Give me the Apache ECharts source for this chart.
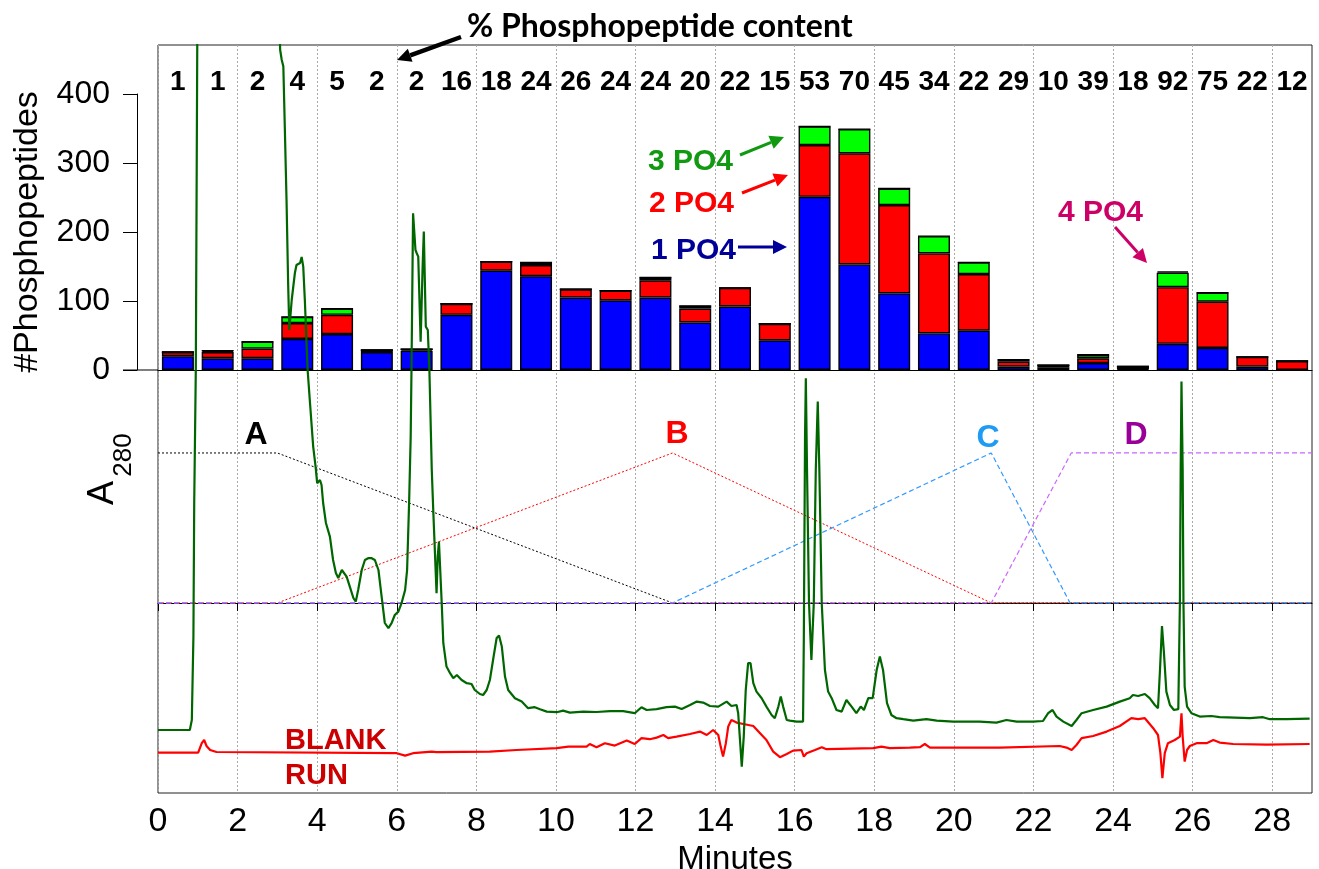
<!DOCTYPE html>
<html>
<head>
<meta charset="utf-8">
<script src="https://cdn.jsdelivr.net/npm/echarts@6/dist/echarts.min.js"></script>
<style>
  html, body { margin: 0; padding: 0; background: #fff; }
  #chart { width: 1319px; height: 869px; }
</style>
</head>
<body>
<div id="chart"></div>
<script>
// fractions, one per minute of the run
const fractions = ['0-1','1-2','2-3','3-4','4-5','5-6','6-7','7-8','8-9','9-10','10-11','11-12','12-13','13-14','14-15',
  '15-16','16-17','17-18','18-19','19-20','20-21','21-22','22-23','23-24','24-25','25-26','26-27','27-28','28-29'];
// % phosphopeptide content written above each fraction
const pctContent = ['1','1','2','4','5','2','2','16','18','24','26','24','24','20','22','15','53','70','45','34','22','29','10','39','18','92','75','22','12'];

// #phosphopeptides per fraction, by number of phosphate groups
const onePO4   = [20,17,17,45,52,26,28,80,144,136,105,101,105,69,92,43,251,153,111,53,57,5,4,10,1,38,32,5,0];
const twoPO4   = [6,9,14,23,28,3,2,16,13,16,12,14,25,20,27,24,75,161,128,116,82,7,3,7,4,82,67,14,13];
const threePO4 = [0,2,10,9,9,0,0,0,0,4,0,0,4,4,0,0,27,35,24,25,17,3,0,5,0,21,13,0,0];
const fourPO4  = [0,0,0,0,0,0,0,0,0,0,0,0,0,0,0,0,0,0,0,0,0,0,0,0,0,2,0,0,0];

// A280 chromatogram [minutes, mAU]; values above the top of the plot are off scale
const sampleTrace = [[0,32.5],[0.80,32.5],[0.85,37.5],[0.89,79.2],[0.91,146],[0.95,212.5],[0.99,390],[1.02,430],[2.0,440],[3.0,420],
  [3.07,372.5],[3.11,367.5],[3.15,364.2],[3.19,331],[3.23,297.5],[3.27,256],[3.30,232.5],[3.36,247.5],[3.44,261],[3.48,265],
  [3.53,264.2],[3.57,266],[3.61,269],[3.65,264.2],[3.69,247.5],[3.74,222.5],[3.76,212.5],[3.82,196],[3.90,174.2],[3.96,164.2],
  [4.00,155.9],[4.07,157.5],[4.11,155],[4.15,146],[4.22,136],[4.32,129.2],[4.40,117.5],[4.47,111],[4.53,108.5],[4.62,112.5],
  [4.67,112.5],[4.74,109.2],[4.82,104.2],[4.91,98.5],[4.97,96.7],[5.03,102.5],[5.12,112.5],[5.20,117.5],[5.28,118.4],[5.37,118.4],
  [5.45,117.5],[5.54,112.5],[5.62,99.2],[5.70,86],[5.79,83.4],[5.87,85.9],[5.95,90],[6.04,91.7],[6.12,95.9],[6.21,102.5],
  [6.26,112.5],[6.31,146],[6.35,179.2],[6.37,212.5],[6.41,290.9],[6.47,272.5],[6.50,271],[6.54,269.2],[6.60,226.7],[6.65,264.2],
  [6.68,281.7],[6.73,234.2],[6.78,232.5],[6.82,212.5],[6.88,162.5],[6.92,140.9],[6.96,120.9],[7.00,100.9],[7.03,119.2],[7.06,126.7],
  [7.09,126],[7.13,95.9],[7.17,75.9],[7.25,64.2],[7.34,60.9],[7.42,58.4],[7.51,60],[7.63,57.5],[7.76,55.9],[7.88,55.5],
  [7.96,52.5],[8.09,50.5],[8.17,50],[8.26,52.5],[8.34,57.5],[8.42,67.5],[8.51,78.5],[8.57,79.7],[8.64,74.2],[8.72,59.2],
  [8.80,52.5],[8.97,48.4],[9.14,46.7],[9.30,43.4],[9.47,43.9],[9.60,42.9],[9.77,41.7],[10.02,41.4],[10.18,42.2],[10.35,41.2],
  [10.69,41.7],[11.02,41.5],[11.36,41.9],[11.69,41.9],[11.98,40.9],[12.15,43.9],[12.28,42.5],[12.53,42.9],[12.78,43.9],[12.99,44.2],
  [13.16,43],[13.37,45],[13.54,46.7],[13.70,46.2],[13.87,44.5],[14.08,44.2],[14.29,46.7],[14.41,44.5],[14.54,45],[14.58,40.9],
  [14.62,29.2],[14.67,14.2],[14.72,29.2],[14.77,52.5],[14.83,65.9],[14.89,65.9],[14.96,55.9],[15.04,51.7],[15.17,48.4],[15.29,44.2],
  [15.42,40],[15.50,38.4],[15.59,44.2],[15.65,49.2],[15.71,44.2],[15.80,37.5],[15.88,37.2],[16.05,36.7],[16.21,36.7],[16.23,79.2],
  [16.26,179.2],[16.28,208.4],[16.31,162.5],[16.36,95.9],[16.42,67.5],[16.48,95.9],[16.53,162.5],[16.58,196.7],[16.62,162.5],[16.68,95.9],
  [16.76,62.5],[16.84,51.7],[16.93,48.4],[17.05,42.5],[17.18,41.7],[17.30,47.5],[17.43,44.2],[17.55,40.9],[17.66,44.2],[17.74,42.5],
  [17.85,48.4],[17.96,48.4],[18.06,62.5],[18.14,69.2],[18.22,62.5],[18.32,45.9],[18.43,40],[18.56,38.4],[18.73,37.9],[18.98,37.2],
  [19.31,37.9],[19.57,37.2],[19.98,36.7],[20.32,36.7],[20.65,36.7],[21.07,36.2],[21.32,37.5],[21.58,36.7],[21.99,36.7],[22.24,37],
  [22.37,40.9],[22.48,42.5],[22.58,39.2],[22.75,36.7],[22.96,34.5],[23.08,37.5],[23.21,40.9],[23.50,42.5],[23.84,44.2],[24.17,46.7],
  [24.42,48.4],[24.50,50],[24.63,49.5],[24.80,50.5],[24.92,48.4],[25.05,45],[25.13,43.4],[25.18,62.5],[25.23,84.5],[25.28,70.9],
  [25.34,51.7],[25.43,45],[25.53,42.5],[25.64,42.9],[25.68,95.9],[25.70,162.5],[25.72,206.7],[25.75,162.5],[25.77,95.9],[25.80,54.2],
  [25.86,44.2],[25.97,40.9],[26.18,39.2],[26.47,39.5],[26.68,38.9],[27.44,38.4],[27.77,38.9],[27.94,37.9],[28.36,37.9],[28.94,38.2]];

const blankTrace = [[0,21.2],[1.01,21.2],[1.10,25.9],[1.16,27.5],[1.22,24.5],[1.31,22.5],[1.47,21.5],[6.00,20.9],[6.21,19.7],[6.41,20.9],
  [6.88,21.7],[6.92,22.5],[7.00,21.4],[8.34,21.7],[9.01,22.5],[10.02,23.4],[10.31,24.2],[10.77,24.2],[10.85,25.5],[11.02,23.9],
  [11.23,25.9],[11.48,24.7],[11.78,27.2],[11.98,25.5],[12.15,28.4],[12.36,27.9],[12.53,28.7],[12.70,30],[12.82,28.4],[13.03,29.2],
  [13.37,30.5],[13.62,31.7],[13.79,30],[13.95,32.5],[14.08,30],[14.14,24.2],[14.20,19.2],[14.27,25.9],[14.33,34.2],[14.41,37.5],
  [14.54,36.2],[14.71,35.5],[14.96,34.5],[15.13,30.9],[15.29,27.5],[15.46,21.7],[15.63,18.9],[15.80,20.5],[15.96,22.2],[16.17,22.5],
  [16.23,19.2],[16.30,20.9],[16.51,22.5],[16.68,23.9],[16.80,22.9],[17.39,23.2],[17.97,23.4],[18.18,24.2],[18.39,23.4],[18.89,23.7],
  [19.15,23.9],[19.27,25.5],[19.40,23.7],[21.16,23.7],[22.66,24.5],[22.83,23.7],[22.96,22.5],[23.08,25],[23.21,28.4],[23.50,29.5],
  [23.84,31.7],[24.17,34.5],[24.46,38.4],[24.63,37.9],[24.80,38.4],[25.01,33.4],[25.13,30],[25.19,20.9],[25.24,8.4],[25.30,20.9],
  [25.38,25.9],[25.55,27.5],[25.68,29.2],[25.72,40.9],[25.75,29.2],[25.80,16.7],[25.86,22.5],[25.93,24.5],[26.10,25.9],[26.35,25.9],
  [26.52,27.5],[26.68,26.2],[27.02,25.5],[27.86,25.2],[28.94,25.5]];

// solvent gradient programme, % of each buffer
const gradientA = [[0,100],[3,100],[12.93,0],[29,0]];
const gradientB = [[0,0],[3,0],[12.93,100],[20.94,0],[29,0]];
const gradientC = [[0,0],[12.93,0],[20.94,100],[22.92,0],[29,0]];
const gradientD = [[0,0],[20.94,0],[22.95,100],[29,100]];

const evenMinutes = [0,2,4,6,8,10,12,14,16,18,20,22,24,26,28];

const FONT = 'Liberation Sans, Arial, sans-serif';

function arrow(x1, y1, x2, y2, color, w) {
  const ang = Math.atan2(y2 - y1, x2 - x1);
  const len = 14, half = 7;
  const bx = x2 - len * Math.cos(ang), by = y2 - len * Math.sin(ang);
  const px = -Math.sin(ang) * half, py = Math.cos(ang) * half;
  return {
    type: 'group', z: 20,
    children: [
      { type: 'line', shape: { x1: x1, y1: y1, x2: bx, y2: by }, style: { stroke: color, lineWidth: w } },
      { type: 'polygon', shape: { points: [[x2, y2], [bx + px, by + py], [bx - px, by - py]] }, style: { fill: color } }
    ]
  };
}

function label(text, x, y, color, size, align) {
  return {
    type: 'text', x: x, y: y, z: 20,
    style: { text: text, fill: color, font: 'bold ' + size + 'px ' + FONT, align: align || 'center', verticalAlign: 'middle' }
  };
}

function barSeries(name, data, color) {
  return {
    name: name, type: 'bar', stack: 'po4', xAxisIndex: 1, yAxisIndex: 2,
    data: data, barWidth: 32, z: 2,
    itemStyle: { color: color, borderColor: '#000', borderWidth: 1.4 }
  };
}

function lineSeries(name, data, color, width, type, yIdx, z) {
  return {
    name: name, type: 'line', xAxisIndex: 0, yAxisIndex: yIdx, data: data,
    showSymbol: false, symbol: 'none', z: z,
    lineStyle: { color: color, width: width, type: type }
  };
}

const chart = echarts.init(document.getElementById('chart'));

const option = {
  animation: false,
  backgroundColor: '#fff',
  textStyle: { fontFamily: FONT },
  grid: [
    { left: 158, right: 7, top: 45, bottom: 76, outerBoundsMode: 'none', show: true, borderColor: '#222', borderWidth: 1 },
    { left: 158, right: 7, top: 94, bottom: 499, outerBoundsMode: 'none' }
  ],
  xAxis: [
    {
      type: 'value', gridIndex: 0, min: 0, max: 29, interval: 1,
      name: 'Minutes', nameLocation: 'middle', nameGap: 46,
      nameTextStyle: { fontSize: 33, color: '#000', fontFamily: FONT },
      axisLine: { lineStyle: { color: '#000', width: 1 } },
      axisTick: { length: 8, lineStyle: { color: '#000' }, customValues: evenMinutes },
      axisLabel: { fontSize: 34, color: '#000', margin: 12, customValues: evenMinutes,
        formatter: v => (v % 2 === 0 ? String(v) : '') },
      splitLine: { show: true, lineStyle: { color: '#aaa', type: [2, 2], width: 1 } }
    },
    {
      type: 'category', gridIndex: 1, data: fractions, position: 'bottom',
      axisLine: { lineStyle: { color: '#000', width: 1.2 } },
      axisTick: { show: false }, axisLabel: { show: false }, splitLine: { show: false }
    },
    {
      type: 'category', gridIndex: 1, data: pctContent, position: 'top',
      axisLine: { show: false }, axisTick: { show: false }, splitLine: { show: false },
      axisLabel: { fontSize: 28, fontWeight: 'bold', color: '#000', margin: -2, interval: 0 }
    }
  ],
  yAxis: [
    { type: 'value', gridIndex: 0, min: 1, max: 375, show: false },
    { type: 'value', gridIndex: 0, min: -126.7, max: 372, show: false },
    {
      type: 'value', gridIndex: 1, min: 0, max: 400, interval: 100, offset: 21,
      name: '#Phosphopeptides', nameLocation: 'middle', nameGap: 92,
      nameTextStyle: { fontSize: 34, color: '#000', fontFamily: FONT },
      axisLine: { show: true, lineStyle: { color: '#000', width: 1 } },
      axisTick: { show: true, length: 14, lineStyle: { color: '#000' } },
      axisLabel: { fontSize: 32, color: '#000', margin: 27 },
      splitLine: { show: false }
    }
  ],
  series: [
    barSeries('1 PO4', onePO4, '#0000ff'),
    barSeries('2 PO4', twoPO4, '#ff0000'),
    barSeries('3 PO4', threePO4, '#00ff00'),
    barSeries('4 PO4', fourPO4, '#c77dff'),
    lineSeries('A', gradientA, '#000', 1, [2, 2], 1, 3),
    lineSeries('B', gradientB, '#ff0000', 1, [2, 2], 1, 3),
    lineSeries('C', gradientC, '#3399ff', 1.2, [5, 3], 1, 3),
    lineSeries('D', gradientD, '#cc66ff', 1.2, [5, 3], 1, 3),
    lineSeries('Blank run', blankTrace, '#ff0000', 2.2, 'solid', 0, 4),
    lineSeries('Sample', sampleTrace, '#006600', 2.2, 'solid', 0, 5)
  ],
  graphic: [
    { type: 'line', z: 20, shape: { x1: 123, y1: 370, x2: 158, y2: 370 }, style: { stroke: '#000', lineWidth: 1.2 } },
    {
      type: 'text', x: 467, y: 27, z: 20,
      style: { text: '% Phosphopeptide content', fill: '#000', font: 'bold 32px Lato, sans-serif', align: 'left', verticalAlign: 'middle' }
    },
    arrow(461, 37, 397, 60, '#000', 4.5),
    label('3 PO4', 648, 162, '#119911', 30, 'left'),
    arrow(740, 155, 784, 137, '#119911', 3),
    label('2 PO4', 649, 204, '#ff0000', 30, 'left'),
    arrow(742, 193, 788, 175, '#ff0000', 3),
    label('1 PO4', 651, 251, '#000099', 30, 'left'),
    arrow(738, 247, 787, 247, '#000099', 3),
    label('4 PO4', 1058, 213, '#cc0066', 30, 'left'),
    arrow(1115, 227, 1147, 263, '#cc0066', 3),
    label('A', 256, 435, '#000', 32),
    label('B', 677, 434, '#ff0000', 32),
    label('C', 988, 438, '#1e9bf5', 32),
    label('D', 1136, 435, '#990099', 32),
    label('BLANK', 285, 741, '#cc0000', 29, 'left'),
    label('RUN', 285, 776, '#cc0000', 29, 'left'),
    {
      type: 'text', x: 103, y: 493, rotation: Math.PI / 2, z: 20,
      style: { text: 'A', fill: '#000', font: '36px ' + FONT, align: 'center', verticalAlign: 'middle' }
    },
    {
      type: 'text', x: 124, y: 455, rotation: Math.PI / 2, z: 20,
      style: { text: '280', fill: '#000', font: '26px ' + FONT, align: 'center', verticalAlign: 'middle' }
    }
  ]
};

chart.setOption(option);
</script>
</body>
</html>
